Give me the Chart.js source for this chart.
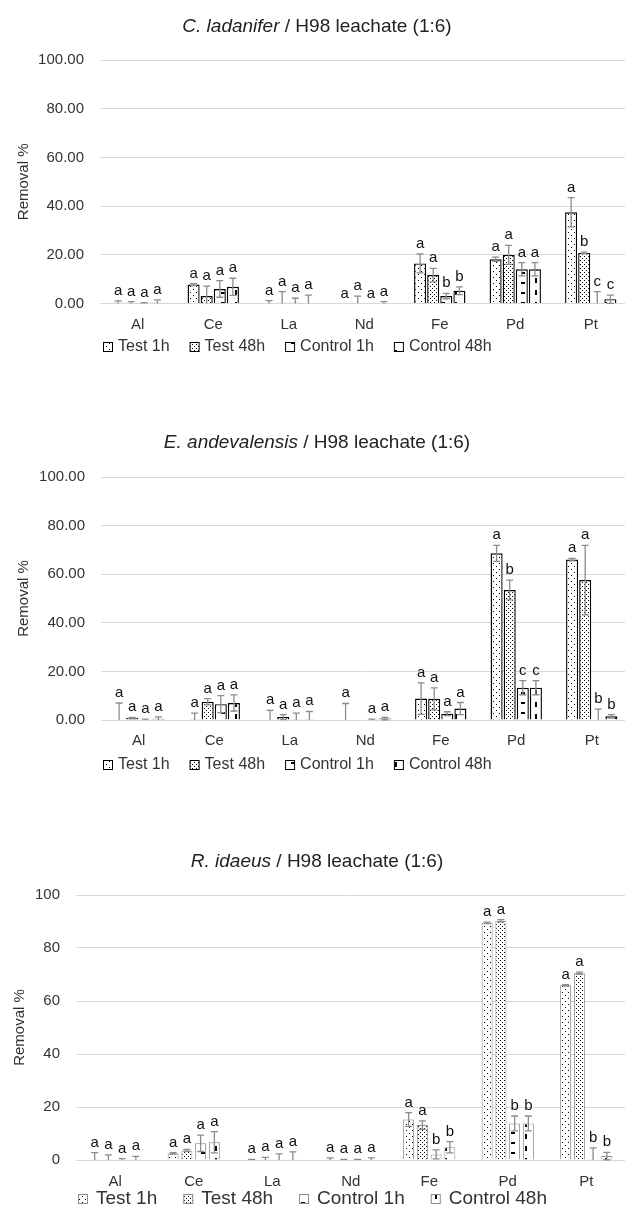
<!DOCTYPE html>
<html>
<head>
<meta charset="utf-8">
<script src="https://cdn.jsdelivr.net/npm/chart.js@4.4.0/dist/chart.umd.min.js"></script>
<style>
  html, body { margin: 0; padding: 0; background: #fff; width: 625px; height: 1210px; overflow: hidden; }
  .box { position: absolute; left: 0; width: 640px; }
</style>
</head>
<body>
<div class="box" style="top:0px;height:380px"><canvas id="c1" width="640" height="380"></canvas></div>
<div class="box" style="top:400px;height:390px"><canvas id="c2" width="640" height="390"></canvas></div>
<div class="box" style="top:820px;height:390px"><canvas id="c3" width="640" height="390"></canvas></div>
<script>
document.addEventListener('DOMContentLoaded', () => {

    const elements = ['Al', 'Ce', 'La', 'Nd', 'Fe', 'Pd', 'Pt'];
    const seriesNames = ['Test 1h', 'Test 48h', 'Control 1h', 'Control 48h'];
    const yTicks = [0, 20, 40, 60, 80, 100];

    // C. ladanifer
    const cl_test1h = [0.3, 7.8, 0.2, 0.0, 16.5, 18.2, 37.5];
    const cl_test48h = [0.2, 3.1, 0.3, 0.1, 11.7, 20.0, 20.8];
    const cl_ctrl1h = [0.1, 6.0, 0.3, 0.0, 3.1, 14.1, 0.1];
    const cl_ctrl48h = [0.3, 6.9, 0.2, 0.2, 5.3, 14.1, 1.8];
    const cl_test1h_err = [0.8, 0.4, 1.0, 0.0, 3.9, 0.9, 6.0];
    const cl_test48h_err = [0.6, 4.1, 4.6, 3.0, 2.8, 3.9, 0.3];
    const cl_ctrl1h_err = [0.3, 3.4, 1.9, 0.0, 1.1, 2.7, 4.8];
    const cl_ctrl48h_err = [1.2, 3.5, 3.3, 0.6, 1.6, 2.7, 1.7];
    const cl_test1h_let = ['a', 'a', 'a', 'a', 'a', 'a', 'a'];
    const cl_test48h_let = ['a', 'a', 'a', 'a', 'a', 'a', 'b'];
    const cl_ctrl1h_let = ['a', 'a', 'a', 'a', 'b', 'a', 'c'];
    const cl_ctrl48h_let = ['a', 'a', 'a', 'a', 'b', 'a', 'c'];

    // E. andevalensis
    const ea_test1h = [0.2, 0.3, 0.2, 0.2, 8.8, 68.6, 66.0];
    const ea_test48h = [0.8, 7.5, 1.2, null, 8.7, 53.5, 57.6];
    const ea_ctrl1h = [0.1, 6.5, 0.3, 0.1, 2.6, 13.3, 0.2];
    const ea_ctrl48h = [0.5, 7.0, 0.3, 0.6, 4.7, 13.3, 1.5];
    const ea_test1h_err = [6.8, 2.5, 3.8, 6.6, 6.5, 3.3, 0.5];
    const ea_test48h_err = [0.3, 1.3, 1.0, 0.0, 4.5, 4.1, 14.3];
    const ea_ctrl1h_err = [0.3, 3.5, 2.5, 0.3, 0.8, 2.9, 4.3];
    const ea_ctrl48h_err = [0.8, 3.3, 3.2, 0.5, 2.5, 2.9, 0.7];
    const ea_test1h_let = ['a', 'a', 'a', 'a', 'a', 'a', 'a'];
    const ea_test48h_let = ['a', 'a', 'a', '', 'a', 'b', 'a'];
    const ea_ctrl1h_let = ['a', 'a', 'a', 'a', 'a', 'c', 'b'];
    const ea_ctrl48h_let = ['a', 'a', 'a', 'a', 'a', 'c', 'b'];

    // R. idaeus
    const ri_test1h = [0.1, 2.5, 0.1, 0.1, 15.3, 89.5, 65.9];
    const ri_test48h = [0.1, 3.6, 0.1, 0.1, 13.2, 90.3, 70.5];
    const ri_ctrl1h = [0.2, 6.3, 0.1, 0.1, 2.1, 13.8, 0.1];
    const ri_ctrl48h = [0.1, 6.7, 0.1, 0.2, 4.8, 13.8, 1.5];
    const ri_test1h_err = [2.7, 0.3, 0.1, 0.7, 2.6, 0.3, 0.3];
    const ri_test48h_err = [1.8, 0.4, 0.9, 0.1, 1.6, 0.4, 0.4];
    const ri_ctrl1h_err = [0.3, 3.1, 2.2, 0.1, 1.7, 2.8, 4.5];
    const ri_ctrl48h_err = [1.3, 4.0, 3.0, 0.6, 2.1, 2.8, 1.4];
    const ri_test1h_let = ['a', 'a', 'a', 'a', 'a', 'a', 'a'];
    const ri_test48h_let = ['a', 'a', 'a', 'a', 'a', 'a', 'a'];
    const ri_ctrl1h_let = ['a', 'a', 'a', 'a', 'b', 'b', 'b'];
    const ri_ctrl48h_let = ['a', 'a', 'a', 'a', 'b', 'b', 'b'];

    const FONT = '"Liberation Sans", Arial, sans-serif';
    const TEXT = '#333';

    // fill patterns like the Excel ones
    function makePattern(kind) {
        const c = document.createElement('canvas');
        const g = c.getContext('2d');
        if (kind === 'sparse') {
            c.width = 6; c.height = 6;
            g.fillStyle = '#fff'; g.fillRect(0, 0, 6, 6);
            g.fillStyle = '#000';
            g.fillRect(1, 1, 1, 1); g.fillRect(4, 4, 1, 1);
        } else if (kind === 'dense') {
            c.width = 4; c.height = 4;
            g.fillStyle = '#fff'; g.fillRect(0, 0, 4, 4);
            g.fillStyle = '#000';
            g.fillRect(0, 0, 1, 1); g.fillRect(2, 2, 1, 1);
        } else if (kind === 'hdash') {
            c.width = 10; c.height = 10;
            g.fillStyle = '#fff'; g.fillRect(0, 0, 10, 10);
            g.fillStyle = '#000';
            g.fillRect(1, 2, 4, 2);
        } else {
            c.width = 10; c.height = 12;
            g.fillStyle = '#fff'; g.fillRect(0, 0, 10, 12);
            g.fillStyle = '#000';
            g.fillRect(5, 2, 2, 5);
        }
        return g.createPattern(c, 'repeat');
    }
    const patterns = [makePattern('sparse'), makePattern('dense'), makePattern('hdash'), makePattern('vdash')];

    const splitTitle = {
        id: 'splitTitle',
        afterDraw(chart, args, opts) {
            const ctx = chart.ctx;
            ctx.save();
            ctx.textBaseline = 'middle';
            ctx.textAlign = 'left';
            ctx.fillStyle = '#222';
            const fi = 'italic ' + opts.size + 'px ' + FONT;
            const fn = opts.size + 'px ' + FONT;
            ctx.font = fi;
            const w1 = ctx.measureText(opts.italic).width;
            ctx.font = fn;
            const w2 = ctx.measureText(opts.rest).width;
            const x = opts.x - (w1 + w2) / 2;
            ctx.font = fi;
            ctx.fillText(opts.italic, x, opts.y);
            ctx.font = fn;
            ctx.fillText(opts.rest, x + w1, opts.y);
            ctx.restore();
        }
    };

    const patternLegend = {
        id: 'patternLegend',
        afterDraw(chart, args, opts) {
            const ctx = chart.ctx;
            ctx.save();
            ctx.font = opts.size + 'px ' + FONT;
            ctx.textBaseline = 'middle';
            ctx.textAlign = 'left';
            let x = opts.x;
            const b = opts.box;
            chart.data.datasets.forEach(ds => {
                ctx.fillStyle = ds.backgroundColor;
                ctx.fillRect(x, opts.y - b / 2, b, b);
                ctx.strokeStyle = opts.border;
                ctx.lineWidth = 1;
                ctx.strokeRect(x + 0.5, opts.y - b / 2 + 0.5, b - 1, b - 1);
                ctx.fillStyle = TEXT;
                ctx.fillText(ds.label, x + b + opts.textGap, opts.y);
                x += b + opts.textGap + ctx.measureText(ds.label).width + opts.itemGap;
            });
            ctx.restore();
        }
    };

    const errorBars = {
        id: 'errorBars',
        afterDatasetsDraw(chart, args, opts) {
            const ctx = chart.ctx;
            const y = chart.scales.y;
            ctx.save();
            chart.data.datasets.forEach((ds, i) => {
                const meta = chart.getDatasetMeta(i);
                meta.data.forEach((bar, j) => {
                    const v = ds.data[j];
                    if (v === null) return;
                    const e = ds.errors[j];
                    const yTop = y.getPixelForValue(v + e);
                    const yBot = y.getPixelForValue(Math.max(v - e, 0));
                    if (e > 0) {
                        ctx.strokeStyle = '#8c8c8c';
                        ctx.lineWidth = 1.3;
                        ctx.beginPath();
                        ctx.moveTo(bar.x, yTop);
                        ctx.lineTo(bar.x, yBot);
                        ctx.moveTo(bar.x - 3.5, yTop);
                        ctx.lineTo(bar.x + 3.5, yTop);
                        if (v - e > 0) {
                            ctx.moveTo(bar.x - 3.5, yBot);
                            ctx.lineTo(bar.x + 3.5, yBot);
                        }
                        ctx.stroke();
                    }
                    const letter = ds.letters[j];
                    if (letter) {
                        ctx.fillStyle = '#111';
                        ctx.font = opts.size + 'px ' + FONT;
                        ctx.textAlign = 'center';
                        ctx.textBaseline = 'alphabetic';
                        ctx.fillText(letter, bar.x, yTop - 6);
                    }
                });
            });
            ctx.restore();
        }
    };

    function crearGrafica(id, cfg) {
        const datasets = cfg.values.map((vals, k) => ({
            label: seriesNames[k],
            data: vals,
            errors: cfg.errors[k],
            letters: cfg.letters[k],
            backgroundColor: patterns[k],
            borderColor: cfg.barBorder,
            borderWidth: cfg.barBorderWidth,
            categoryPercentage: cfg.cp,
            barPercentage: cfg.bp
        }));

        return new Chart(document.getElementById(id), {
            type: 'bar',
            data: { labels: elements, datasets: datasets },
            options: {
                responsive: false,
                animation: false,
                layout: { padding: cfg.padding },
                plugins: {
                    legend: { display: false },
                    tooltip: { enabled: false },
                    splitTitle: { italic: cfg.titleItalic, rest: ' / H98 leachate (1:6)', x: 317, y: cfg.titleY, size: 19 },
                    patternLegend: cfg.legend,
                    errorBars: { size: 15 }
                },
                scales: {
                    x: {
                        grid: { display: false, drawTicks: false },
                        border: { color: '#d9d9d9' },
                        ticks: { color: TEXT, font: { family: FONT, size: 15 }, padding: cfg.xPad },
                        afterFit: s => { s.height = 40; }
                    },
                    y: {
                        min: 0,
                        max: 100,
                        afterBuildTicks: s => { s.ticks = yTicks.map(v => ({ value: v })); },
                        ticks: {
                            color: TEXT,
                            font: { family: FONT, size: 15 },
                            padding: 16,
                            callback: v => cfg.decimals ? v.toFixed(2) : String(v)
                        },
                        grid: { color: '#d9d9d9', drawTicks: false },
                        border: { display: false },
                        title: {
                            display: true,
                            text: 'Removal %',
                            color: TEXT,
                            font: { family: FONT, size: 15 },
                            padding: { top: cfg.yTitlePad, bottom: 0 }
                        },
                        afterFit: s => { s.width = cfg.left; }
                    }
                }
            },
            plugins: [splitTitle, patternLegend, errorBars]
        });
    }

    crearGrafica('c1', {
        values: [cl_test1h, cl_test48h, cl_ctrl1h, cl_ctrl48h],
        errors: [cl_test1h_err, cl_test48h_err, cl_ctrl1h_err, cl_ctrl48h_err],
        letters: [cl_test1h_let, cl_test48h_let, cl_ctrl1h_let, cl_ctrl48h_let],
        titleItalic: 'C. ladanifer', titleY: 27,
        padding: { top: 60, left: 0, right: 11.5, bottom: 36.4 },
        left: 100, xPad: 12, yTitlePad: 15, decimals: true,
        cp: 0.694, bp: 0.92, barBorder: '#000', barBorderWidth: 1.4,
        legend: { x: 103, y: 347, size: 16, box: 10, textGap: 5, itemGap: 20, border: '#000' }
    });

    crearGrafica('c2', {
        values: [ea_test1h, ea_test48h, ea_ctrl1h, ea_ctrl48h],
        errors: [ea_test1h_err, ea_test48h_err, ea_ctrl1h_err, ea_ctrl48h_err],
        letters: [ea_test1h_let, ea_test48h_let, ea_ctrl1h_let, ea_ctrl48h_let],
        titleItalic: 'E. andevalensis', titleY: 43,
        padding: { top: 77, left: 0, right: 10.5, bottom: 30 },
        left: 101, xPad: 12, yTitlePad: 15, decimals: true,
        cp: 0.694, bp: 0.92, barBorder: '#000', barBorderWidth: 1.4,
        legend: { x: 103, y: 365, size: 16, box: 10, textGap: 5, itemGap: 20, border: '#000' }
    });

    crearGrafica('c3', {
        values: [ri_test1h, ri_test48h, ri_ctrl1h, ri_ctrl48h],
        errors: [ri_test1h_err, ri_test48h_err, ri_ctrl1h_err, ri_ctrl48h_err],
        letters: [ri_test1h_let, ri_test48h_let, ri_ctrl1h_let, ri_ctrl48h_let],
        titleItalic: 'R. idaeus', titleY: 42,
        padding: { top: 75, left: 0, right: 14.5, bottom: 10 },
        left: 76, xPad: 13, yTitlePad: 11, decimals: false,
        cp: 0.70, bp: 0.80, barBorder: '#8c8c8c', barBorderWidth: 1,
        legend: { x: 78, y: 379, size: 19, box: 10, textGap: 8, itemGap: 26, border: '#8c8c8c' }
    });
});
</script>
</body>
</html>
